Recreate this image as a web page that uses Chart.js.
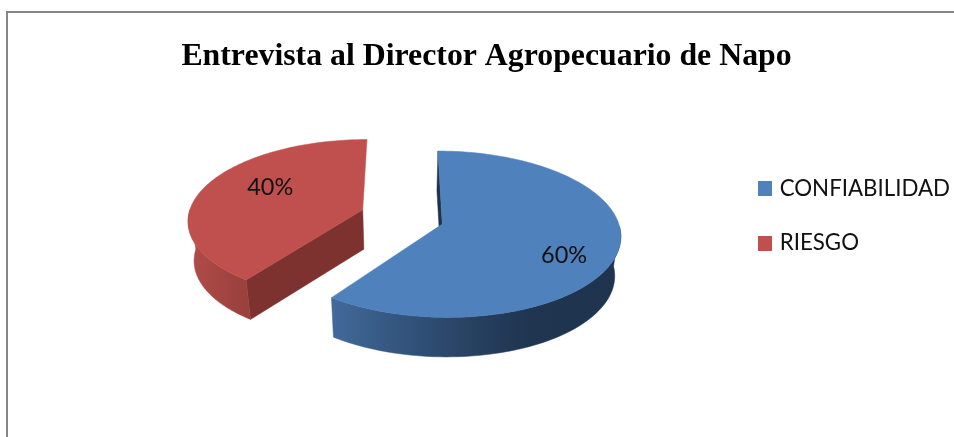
<!DOCTYPE html>
<html lang="es">
<head>
<meta charset="utf-8">
<title>Entrevista al Director Agropecuario de Napo</title>
<style>html,body{margin:0;padding:0;background:#fff;overflow:hidden}canvas{display:block}</style>
<script src="https://cdn.jsdelivr.net/npm/chart.js@4"></script>
</head>
<body>
<canvas id="c" width="954" height="437"></canvas>
<script>
const chartTitle = 'Entrevista al Director Agropecuario de Napo';
const categories = ['CONFIABILIDAD', 'RIESGO'];
const values = [60, 40];
const topColors = ['#4f81bd', '#c0504d'];

const view = { cx: 402.5, cy: 216, a: 174.5, b: 80, persp: 0.12, depth: 39.5, shrink: 0.972 };
const explode = [
  { p: 0.225, v: 0.10 },
  { p: -0.23, v: -0.08 }
];
const wallStyles = [
  { radial: '#1d324c', stops: [[333, '#41699a'], [400, '#33557d'], [480, '#263f5e'], [530, '#1f3550'], [620, '#1e344e']] },
  { radial: '#7e3230', stops: [[190, '#b04c49'], [247, '#9a403d']] }
];
const labelPlace = [
  { f: 0.70, dy: 13 },
  { f: 0.58, dy: -8 }
];

function project(p, v) {
  const w = 1 / (1 - view.persp * v);
  return { x: view.cx + view.a * p * w, y: view.cy + view.b * v * w };
}
function lower(pt) {
  return { x: view.cx + (pt.x - view.cx) * view.shrink, y: pt.y + view.depth };
}
function sliceGeometry(arc, i) {
  const mid = (arc.startAngle + arc.endAngle) / 2;
  const at = (ang, f) => project(explode[i].p + Math.cos(ang) * f, explode[i].v + Math.sin(ang) * f);
  const rim = [];
  const front = [];
  const n = 120;
  for (let k = 0; k <= n; k++) {
    const ang = arc.startAngle + (arc.endAngle - arc.startAngle) * k / n;
    const pt = at(ang, 1);
    rim.push(pt);
    if (Math.sin(ang) >= 0) front.push(pt);
  }
  return { mid, at, rim, front, apex: at(0, 0) };
}
function poly(ctx, pts, fill) {
  ctx.beginPath();
  pts.forEach((p, i) => i ? ctx.lineTo(p.x, p.y) : ctx.moveTo(p.x, p.y));
  ctx.closePath();
  ctx.fillStyle = fill;
  ctx.fill();
  ctx.strokeStyle = fill;
  ctx.lineWidth = 0.5;
  ctx.stroke();
}
function legendSwatch(color) {
  const s = document.createElement('canvas');
  s.width = 14;
  s.height = 15;
  const g = s.getContext('2d');
  g.fillStyle = color;
  g.fillRect(0, 0, 14, 15);
  return s;
}

const frame = {
  id: 'frame',
  beforeDraw(chart) {
    const ctx = chart.ctx;
    ctx.save();
    ctx.fillStyle = '#fff';
    ctx.fillRect(0, 0, chart.width, chart.height);
    ctx.strokeStyle = '#868686';
    ctx.lineWidth = 2;
    ctx.beginPath();
    ctx.moveTo(7, chart.height);
    ctx.lineTo(7, 12);
    ctx.lineTo(chart.width, 12);
    ctx.stroke();
    ctx.restore();
  }
};

const pie3d = {
  id: 'pie3d',
  beforeDatasetsDraw(chart) {
    const ctx = chart.ctx;
    const meta = chart.getDatasetMeta(0);
    ctx.save();
    meta.data.forEach((arc, i) => {
      const g = sliceGeometry(arc, i);
      const style = wallStyles[i];
      const edge = g.rim[0];
      poly(ctx, [g.apex, edge, lower(edge), lower(g.apex)], style.radial);
      const x0 = style.stops[0][0], x1 = style.stops[style.stops.length - 1][0];
      const grad = ctx.createLinearGradient(x0, 0, x1, 0);
      style.stops.forEach(s => grad.addColorStop((s[0] - x0) / (x1 - x0), s[1]));
      poly(ctx, g.front.concat(g.front.slice().reverse().map(lower)), grad);
      poly(ctx, [g.apex].concat(g.rim), topColors[i]);
    });
    const total = values.reduce((s, v) => s + v, 0);
    ctx.font = '23.5px Lato';
    ctx.textAlign = 'center';
    ctx.textBaseline = 'middle';
    ctx.fillStyle = '#111';
    meta.data.forEach((arc, i) => {
      const g = sliceGeometry(arc, i);
      const p = g.at(g.mid, labelPlace[i].f);
      ctx.fillText(Math.round(values[i] / total * 100) + '%', p.x, p.y + labelPlace[i].dy);
    });
    ctx.restore();
    return false;
  }
};

new Chart(document.getElementById('c'), {
  type: 'pie',
  data: {
    labels: categories,
    datasets: [{ data: values, backgroundColor: topColors, borderWidth: 0 }]
  },
  options: {
    responsive: false,
    animation: false,
    layout: { padding: { left: 13, top: 38, right: -6, bottom: 43 } },
    plugins: {
      tooltip: { enabled: false },
      title: {
        display: true,
        text: chartTitle,
        color: '#000',
        font: { family: '"Liberation Serif"', size: 31.8, weight: 'bold' },
        padding: { top: 0, bottom: 10 }
      },
      legend: {
        position: 'right',
        padding: 4,
        labels: {
          color: '#111',
          font: { family: 'Lato', size: 22.3 },
          usePointStyle: true,
          pointStyleWidth: 7,
          boxHeight: 15,
          padding: 32,
          generateLabels(chart) {
            return Chart.overrides.pie.plugins.legend.labels.generateLabels(chart)
              .map((item, i) => ({ ...item, pointStyle: legendSwatch(topColors[i]) }));
          }
        }
      }
    }
  },
  plugins: [frame, pie3d]
});
</script>
</body>
</html>
